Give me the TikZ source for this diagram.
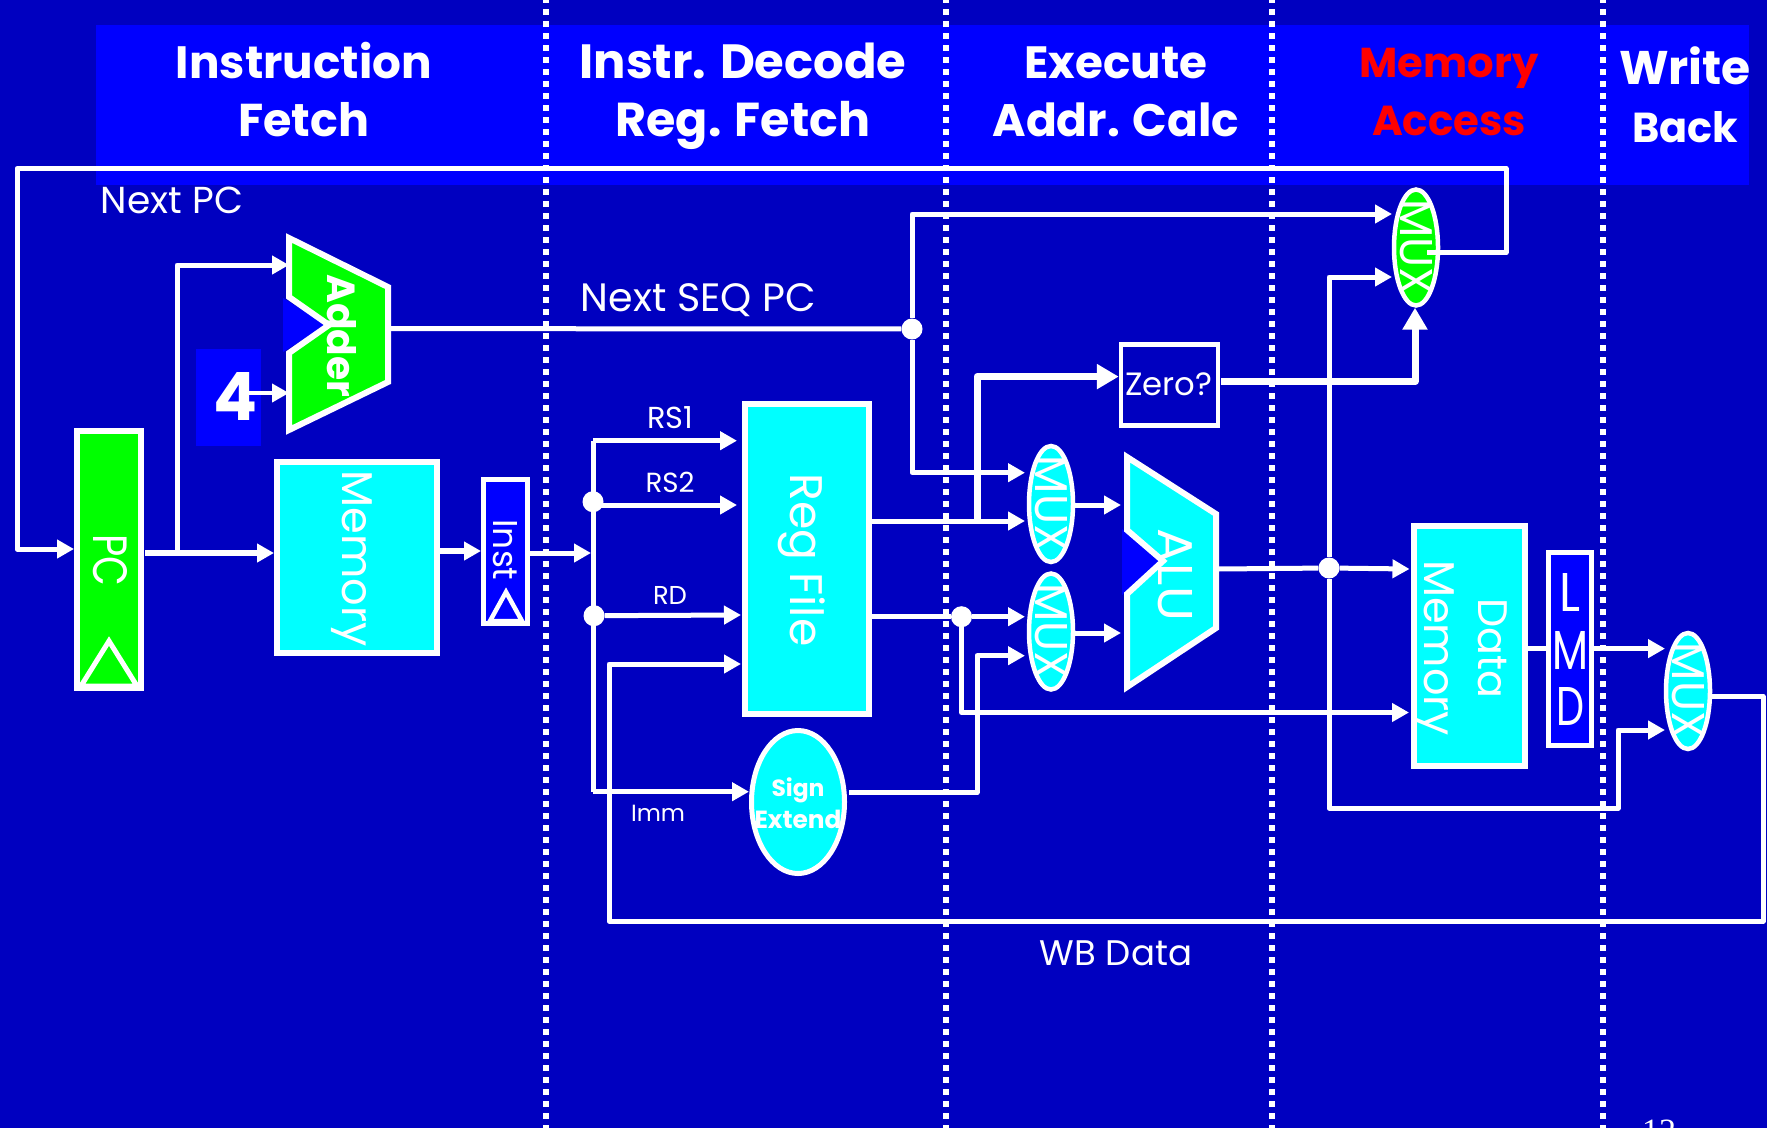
\documentclass[tikz,border=0pt]{standalone}
\usepackage{graphicx}
\usepackage{fontspec}
\setmainfont{Poppins}
\newfontfamily\numfont{Liberation Serif}
\usetikzlibrary{arrows.meta,shapes.geometric}
\definecolor{bgblue}{RGB}{0,0,192}
\definecolor{bandblue}{RGB}{0,0,255}
\definecolor{blockgreen}{RGB}{0,255,0}
\definecolor{blockcyan}{RGB}{0,255,255}
\newcommand{\fitw}[2]{\resizebox{#1pt}{!}{#2}}
\newcommand{\fitwh}[3]{\resizebox{#1pt}{#2pt}{#3}}
\tikzset{
  x=1pt,y=-1pt,
  plainwire/.style={draw=white,line width=5pt,line join=round},
  wire/.style={plainwire,-{Triangle[length=17pt,width=18pt]}},
  thickwire/.style={draw=white,line width=7pt,line join=round},
  bigwire/.style={thickwire,-{Triangle[length=22pt,width=24pt]}},
  block/.style={draw=white,line width=6pt,inner sep=0pt},
  muxshape/.style={ellipse,draw=white,line width=4.5pt,inner sep=0pt,minimum width=44pt,minimum height=116pt},
  txt/.style={text=white,inner sep=0pt,outer sep=0pt},
  rot/.style={txt,rotate=-90},
  head/.style={txt,align=center,font=\fontsize{46}{58}\selectfont\bfseries},
  jdot/.style={circle,fill=white,inner sep=0pt,minimum size=21pt},
  stagesep/.style={draw=white,line width=6pt,dash pattern=on 6pt off 6pt},
  clocktri/.style={draw=white,line width=5pt,line join=miter}
}
\begin{document}
\begin{tikzpicture}
\path[use as bounding box,fill=bgblue] (0,0) rectangle (1767,1128);
% header band
\fill[bandblue] (96,25) rectangle (1749,184.5);
% stage separators
\foreach \n/\sx in {sa/546,sb/946,sc/1272,sd/1603}{
  \coordinate (\n t) at (\sx,-3);
  \coordinate (\n b) at (\sx,1128);
  \draw[stagesep] (\n t) -- (\n b);
}
% headers
\node[head] (h1) at (304,90) {\fitw{256}{Instruction}\\\fitw{131}{Fetch}};
\node[head] (h2) at (743,96) {\fitw{327}{Instr. Decode}\\\fitw{255}{Reg. Fetch}};
\node[head] (h3) at (1116,92) {\fitw{183}{Execute}\\\fitw{247}{Addr. Calc}};
\node[head,text=red] (h4) at (1449,92) {\fitw{179}{Memory}\\\fitw{154}{Access}};
\node[head] (h5) at (1685,95) {\fitw{132}{Write}\\\fitwh{106}{31}{Back}};
% blocks
\node[block,fill=blockgreen,minimum width=64pt,minimum height=257pt] (pc) at (109,559.5) {};
\node[block,fill=blockcyan,minimum width=160pt,minimum height=191pt] (mem) at (357,557.5) {};
\node[block,line width=5pt,fill=bandblue,minimum width=44pt,minimum height=144pt] (inst) at (505.5,551.5) {};
\node[block,fill=blockcyan,minimum width=124pt,minimum height=310pt] (reg) at (807,558.7) {};
\node[ellipse,draw=white,line width=5pt,fill=blockcyan,inner sep=0pt,minimum width=93pt,minimum height=143pt] (sign) at (798,802) {};
\node[block,line width=4.5pt,minimum width=97pt,minimum height=81pt] (zero) at (1169.5,385) {};
\node[block,fill=blockcyan,minimum width=111pt,minimum height=240pt] (dmem) at (1469.5,646) {};
\node[block,line width=5pt,fill=bandblue,minimum width=43pt,minimum height=193pt] (lmd) at (1570,649) {};
\node[fill=bandblue,inner sep=0pt,minimum width=65pt,minimum height=97pt] (fourbox) at (228.5,397.5) {};
% muxes
\node[muxshape,fill=blockgreen] (muxb) at (1416,247.5) {};
\node[muxshape,fill=blockcyan] (muxa1) at (1051,504) {};
\node[muxshape,fill=blockcyan] (muxa2) at (1051,631.5) {};
\node[muxshape,fill=blockcyan] (muxw) at (1688,691) {};
% adder
\coordinate (addA) at (289,238); \coordinate (addB) at (388,287);
\coordinate (addC) at (388,382); \coordinate (addD) at (289,430);
\coordinate (addE) at (289,353); \coordinate (addF) at (329,325);
\coordinate (addG) at (289,297);
\fill[bandblue] (283,298) -- (326,325) -- (283,352) -- cycle;
\draw[draw=white,fill=blockgreen,line width=6pt,miter limit=10] (addA) -- (addB) -- (addC) -- (addD) -- (addE) -- (addF) -- (addG) -- cycle;
% alu
\coordinate (aluA) at (1127,457); \coordinate (aluB) at (1216,514);
\coordinate (aluC) at (1216,628); \coordinate (aluD) at (1127,687);
\coordinate (aluE) at (1127,594); \coordinate (aluF) at (1163,561);
\coordinate (aluG) at (1127,530);
\fill[bandblue] (1122,529) -- (1160,561) -- (1122,595) -- cycle;
\draw[draw=white,fill=blockcyan,line width=6pt,miter limit=10] (aluA) -- (aluB) -- (aluC) -- (aluD) -- (aluE) -- (aluF) -- (aluG) -- cycle;
% clock triangles
\coordinate (pcT) at (109,641); \coordinate (pcL) at (81,686); \coordinate (pcR) at (137,686);
\draw[clocktri] (pcT) -- (pcR) -- (pcL) -- cycle;
\coordinate (inT) at (506,592); \coordinate (inL) at (490,621); \coordinate (inR) at (522,621);
\draw[clocktri,line width=4.5pt] (inT) -- (inR) -- (inL) -- cycle;
% junctions
\node[jdot] (dseq) at (912,329) {};
\node[jdot] (drs2) at (593,501.7) {};
\node[jdot] (drd) at (594,615.7) {};
\node[jdot] (dreg) at (961.5,616.7) {};
\node[jdot] (dalu) at (1329,568) {};
% connector way-points
\coordinate (npA) at (1506,252.6); \coordinate (npS) at (1427,252.6);
\coordinate (npB) at (1506,168.6); \coordinate (npC) at (17,168.6); \coordinate (npD) at (17,549);
\coordinate (pcy) at (145,553); \coordinate (pcb) at (177,553); \coordinate (pcu) at (177,265);
\coordinate (fourS) at (249,393);
\coordinate (addO) at (391,328.6);
\coordinate (seqU) at (912,214); \coordinate (seqUe) at (1392,214);
\coordinate (seqD) at (912,472.7); \coordinate (seqDe) at (1025,472.7);
\coordinate (memy) at (440,551);
\coordinate (insO) at (530,553); \coordinate (insE) at (591,553);
\coordinate (busT) at (593,440.7); \coordinate (busB) at (593,791.7);
\coordinate (rs1e) at (737,440.7); \coordinate (rs2e) at (737,505); \coordinate (rs2s) at (593,505);
\coordinate (rde) at (741,615);
\coordinate (wbS) at (1712,696.5); \coordinate (wbA) at (1763,696.5); \coordinate (wbB) at (1763,921);
\coordinate (wbC) at (609,921); \coordinate (wbD) at (609,664); \coordinate (wbE) at (741,664);
\coordinate (r1s) at (872,521); \coordinate (r1e) at (1025,521);
\coordinate (r2s) at (872,616.7); \coordinate (r2e) at (1025,616.7);
\coordinate (dmA) at (961.5,712.5); \coordinate (dmB) at (1409,712.5);
\coordinate (zb) at (977,521); \coordinate (zu) at (977,376.6);
\coordinate (zoS) at (1221,381.5); \coordinate (zoA) at (1415,381.5); \coordinate (zoB) at (1415,307.7);
\coordinate (seO) at (849,792.7); \coordinate (seA) at (977,792.7); \coordinate (seB) at (977,655.7); \coordinate (seC) at (1025,655.7);
\coordinate (m1o) at (1075,505); \coordinate (m1e) at (1121,505);
\coordinate (m2o) at (1075,633); \coordinate (m2e) at (1121,633);
\coordinate (aluO) at (1218,569); \coordinate (aluE2) at (1409.5,569);
\coordinate (daU) at (1329,277); \coordinate (daUe) at (1392,277);
\coordinate (daD) at (1329,808); \coordinate (daR) at (1618,808); \coordinate (daS) at (1618,730); \coordinate (daE) at (1665,730);
\coordinate (dmO) at (1528,648.6); \coordinate (lmdO) at (1594,648.6); \coordinate (lmdE) at (1665,648.6);
% connectors
\draw[wire] (npS) -- (npA) -- (npB) -- (npC) -- (npD) -- (npD -| pc.west);
\draw[wire,line width=6pt] (pcy) -- (mem.west |- pcy);
\draw[wire] (pcb) -- (pcu) -- (addA |- pcu);
\draw[wire,line width=4pt] (fourS) -- (fourS -| addA);
\draw[plainwire] (addO) -- (dseq);
\draw[wire] (dseq) -- (seqU) -- (seqUe);
\draw[wire] (dseq) -- (seqD) -- (seqDe);
\draw[wire,line width=6pt] (mem.east |- memy) -- (inst.west |- memy);
\draw[wire] (insO) -- (insE);
\draw[plainwire] (busT) -- (busB);
\draw[wire] (busT) -- (rs1e);
\draw[wire] (rs2s) -- (rs2e);
\draw[wire] (drd) -- (rde);
\draw[wire] (busB) -- (sign.west |- busB);
\draw[wire] (wbS) -- (wbA) -- (wbB) -- (wbC) -- (wbD) -- (wbE);
\draw[wire] (r1s) -- (r1e);
\draw[plainwire] (r2s) -- (dreg);
\draw[wire] (dreg) -- (r2e);
\draw[wire] (dreg) -- (dmA) -- (dmB);
\draw[bigwire] (zb) -- (zu) -- (zu -| zero.west);
\draw[bigwire] (zoS) -- (zoA) -- (zoB);
\draw[wire] (seO) -- (seA) -- (seB) -- (seC);
\draw[wire] (m1o) -- (m1e);
\draw[wire] (m2o) -- (m2e);
\draw[plainwire] (aluO) -- (dalu);
\draw[wire] (dalu) -- (aluE2);
\draw[wire] (dalu) -- (daU) -- (daUe);
\draw[wire] (dalu) -- (daD) -- (daR) -- (daS) -- (daE);
\draw[plainwire] (dmO) -- (lmd.west |- dmO);
\draw[wire] (lmdO) -- (lmdE);
% block labels
\node[rot] (pct) at (110,560) {\fitwh{52}{34}{PC}};
\node[rot] (memt) at (352,558.6) {\fitw{176}{Memory}};
\node[rot] (instt) at (505,550) {\fitw{61}{Inst}};
\node[rot,font=\bfseries] (addt) at (342,336) {\fitw{123}{Adder}};
\node[txt,font=\bfseries] (four) at (235,396) {\fitwh{44}{48}{4}};
\node[rot] (regt) at (802,560) {\fitw{173}{Reg File}};
\node[rot] (alut) at (1175,575) {\fitwh{92}{34}{ALU}};
\node[rot,align=center,font=\fontsize{40}{54}\selectfont] (dmt) at (1460,648) {\fitw{100}{Data}\\\fitw{176}{Memory}};
\node[txt] (zt) at (1169,384) {\fitw{87}{Zero?}};
\node[rot] (mbt) at (muxb) {\fitwh{96}{32}{MUX}};
\node[rot] (m1t) at (muxa1) {\fitwh{96}{32}{MUX}};
\node[rot] (m2t) at (muxa2) {\fitwh{96}{32}{MUX}};
\node[rot] (mwt) at (muxw) {\fitwh{96}{32}{MUX}};
\node[txt] (l1) at (1570,592) {\fitwh{21}{38}{L}};
\node[txt] (l2) at (1570,650.6) {\fitwh{36}{38}{M}};
\node[txt] (l3) at (1570.6,706) {\fitwh{28}{38}{D}};
\node[txt,align=center,font=\fontsize{25}{32}\selectfont\bfseries] (st) at (798,803) {\fitw{53}{Sign}\\\fitw{87}{Extend}};
% wire labels
\node[txt] (lnp) at (172,200) {\fitw{142}{Next PC}};
\node[txt] (lseq) at (698.5,300) {\fitw{235}{Next SEQ PC}};
\node[txt] (lrs1) at (670,418) {\fitw{46}{RS1}};
\node[txt] (lrs2) at (670,482) {\fitw{49}{RS2}};
\node[txt] (lrd) at (670,595) {\fitw{34}{RD}};
\node[txt] (limm) at (658,813) {\fitw{54}{Imm}};
\node[txt] (lwb) at (1116,953) {\fitw{152}{WB Data}};
\node[txt,anchor=base,font=\fontsize{34}{40}\selectfont\numfont] (pg) at (1659,1142) {12};
\end{tikzpicture}
\end{document}
